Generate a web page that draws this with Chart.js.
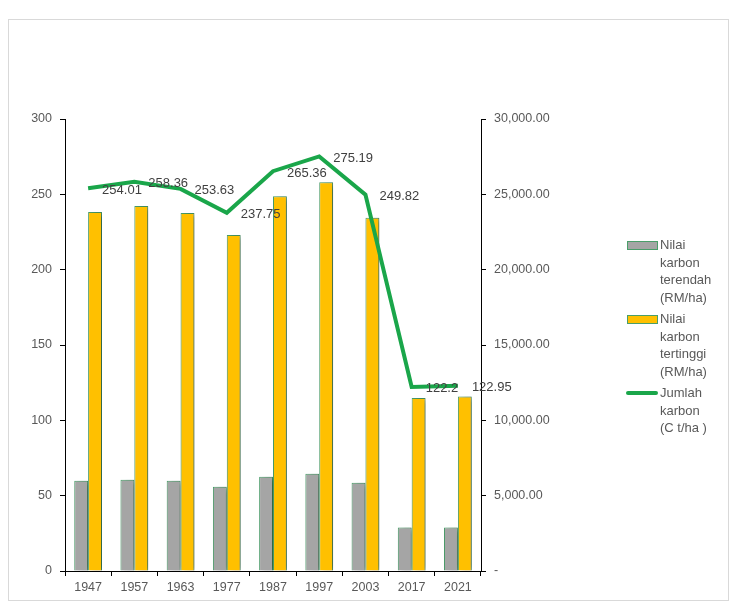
<!DOCTYPE html>
<html>
<head>
<meta charset="utf-8">
<script src="https://cdn.jsdelivr.net/npm/chart.js@4.4.1/dist/chart.umd.min.js"></script>
<style>
  html, body { margin: 0; padding: 0; background: #fff; }
  #wrap { position: relative; width: 742px; height: 610px; }
  #frame { position: absolute; left: 8px; top: 19px; width: 721px; height: 582px; border: 1px solid #d9d9d9; box-sizing: border-box; pointer-events: none; }
  canvas { position: absolute; left: 0; top: 0; }
  #legend { position: absolute; left: 626px; top: 236px; font-family: "Liberation Sans", "DejaVu Sans", sans-serif; font-size: 13px; color: #595959; line-height: 17.5px; }
  .item { position: relative; padding-left: 34px; margin-bottom: 4px; }
  .sw { position: absolute; left: 1px; top: 5px; width: 29px; height: 7px; border: 1px solid #4a9e6a; }
  .ln { position: absolute; left: 0; top: 7px; width: 32px; height: 4px; background: #1aa64a; border-radius: 2px; }
</style>
</head>
<body>
<div id="wrap">
  <canvas id="c" width="742" height="610"></canvas>
  <div id="frame"></div>
  <div id="legend"></div>
</div>
<script>
const categories = ["1947", "1957", "1963", "1977", "1987", "1997", "2003", "2017", "2021"];
const nilaiTerendah = [5990, 6060, 5990, 5600, 6260, 6460, 5860, 2880, 2880];
const nilaiTertinggi = [23820, 24220, 23760, 22300, 24880, 25810, 23440, 11480, 11590];
const jumlahKarbon = [254.01, 258.36, 253.63, 237.75, 265.36, 275.19, 249.82, 122.2, 122.95];
const seriesNames = ["Nilai karbon terendah (RM/ha)", "Nilai karbon tertinggi (RM/ha)", "Jumlah karbon (C t/ha )"];
const legendLines = [["Nilai", "karbon", "terendah", "(RM/ha)"], ["Nilai", "karbon", "tertinggi", "(RM/ha)"], ["Jumlah", "karbon", "(C t/ha )"]];

const FONT = '"Liberation Sans", "DejaVu Sans", sans-serif';
const GREY_TXT = '#595959';

const shadowPlugin = {
  id: 'barShadow',
  beforeDatasetDraw(chart, args) {
    const ds = chart.data.datasets[args.index];
    if (ds.type === 'line') return;
    const ctx = chart.ctx;
    ctx.save();
    ctx.shadowColor = 'rgba(0,0,0,0.4)';
    ctx.shadowBlur = 6;
    ctx.shadowOffsetX = 4;
    ctx.shadowOffsetY = 1;
  },
  afterDatasetDraw(chart, args) {
    const ds = chart.data.datasets[args.index];
    if (ds.type === 'line') return;
    chart.ctx.restore();
  }
};

const labelPlugin = {
  id: 'lineLabels',
  afterDatasetsDraw(chart) {
    const idx = chart.data.datasets.findIndex(d => d.type === 'line');
    const meta = chart.getDatasetMeta(idx);
    const ctx = chart.ctx;
    ctx.save();
    ctx.font = '13px ' + FONT;
    ctx.fillStyle = '#404040';
    ctx.textAlign = 'left';
    ctx.textBaseline = 'middle';
    meta.data.forEach((pt, i) => {
      ctx.fillText(String(chart.data.datasets[idx].data[i]), pt.x + 14, pt.y + 2);
    });
    ctx.restore();
  }
};

const ctx = document.getElementById('c').getContext('2d');
new Chart(ctx, {
  data: {
    labels: categories,
    datasets: [
      { type: 'line', label: seriesNames[2], data: jumlahKarbon, yAxisID: 'y', borderColor: '#1aa64a', borderWidth: 4, pointRadius: 0, tension: 0, order: 0, borderJoinStyle: 'miter' },
      { type: 'bar', label: seriesNames[0], data: nilaiTerendah, yAxisID: 'y1', backgroundColor: '#a5a5a5', borderColor: '#4a9e6a', borderWidth: 1, order: 1, categoryPercentage: 0.6, barPercentage: 1.0 },
      { type: 'bar', label: seriesNames[1], data: nilaiTertinggi, yAxisID: 'y1', backgroundColor: '#ffc000', borderColor: '#4a9e6a', borderWidth: 1, order: 2, categoryPercentage: 0.6, barPercentage: 1.0 }
    ]
  },
  options: {
    responsive: false,
    animation: false,
    devicePixelRatio: 1,
    layout: { padding: { left: 0, top: 119, right: 161, bottom: 9 } },
    plugins: { legend: { display: false }, tooltip: { enabled: false } },
    scales: {
      x: {
        offset: true,
        grid: { display: true, drawOnChartArea: false, drawTicks: true, tickLength: 5, color: '#000', offset: true },
        border: { display: true, color: '#000', width: 1 },
        ticks: { color: GREY_TXT, font: { family: FONT, size: 12.5 }, padding: 4, maxRotation: 0 },
        afterFit: s => { s.height = 30; }
      },
      y: {
        position: 'left', min: 0, max: 300,
        grid: { display: true, drawOnChartArea: false, drawTicks: true, tickLength: 5, color: '#000' },
        border: { display: true, color: '#000', width: 1 },
        ticks: { stepSize: 50, color: GREY_TXT, font: { family: FONT, size: 12.5 }, padding: 8 },
        afterFit: s => { s.width = 65; }
      },
      y1: {
        position: 'right', min: 0, max: 30000,
        grid: { display: true, drawOnChartArea: false, drawTicks: true, tickLength: 5, color: '#000' },
        border: { display: true, color: '#000', width: 1 },
        ticks: {
          stepSize: 5000, color: GREY_TXT, font: { family: FONT, size: 12.5 }, padding: 8,
          callback: v => v === 0 ? '-' : v.toLocaleString('en-US', { minimumFractionDigits: 2, maximumFractionDigits: 2 })
        },
        afterFit: s => { s.width = 100; }
      }
    }
  },
  plugins: [shadowPlugin, labelPlugin]
});

const lg = document.getElementById('legend');
const kinds = ['bar', 'bar', 'line'];
const colors = ['#a5a5a5', '#ffc000', '#1aa64a'];
[0, 1, 2].forEach(i => {
  const d = document.createElement('div');
  d.className = 'item';
  d.title = seriesNames[i];
  const sw = document.createElement('span');
  if (kinds[i] === 'bar') { sw.className = 'sw'; sw.style.background = colors[i]; }
  else { sw.className = 'ln'; }
  d.appendChild(sw);
  d.insertAdjacentHTML('beforeend', legendLines[i].join('<br>'));
  lg.appendChild(d);
});
</script>
</body>
</html>
